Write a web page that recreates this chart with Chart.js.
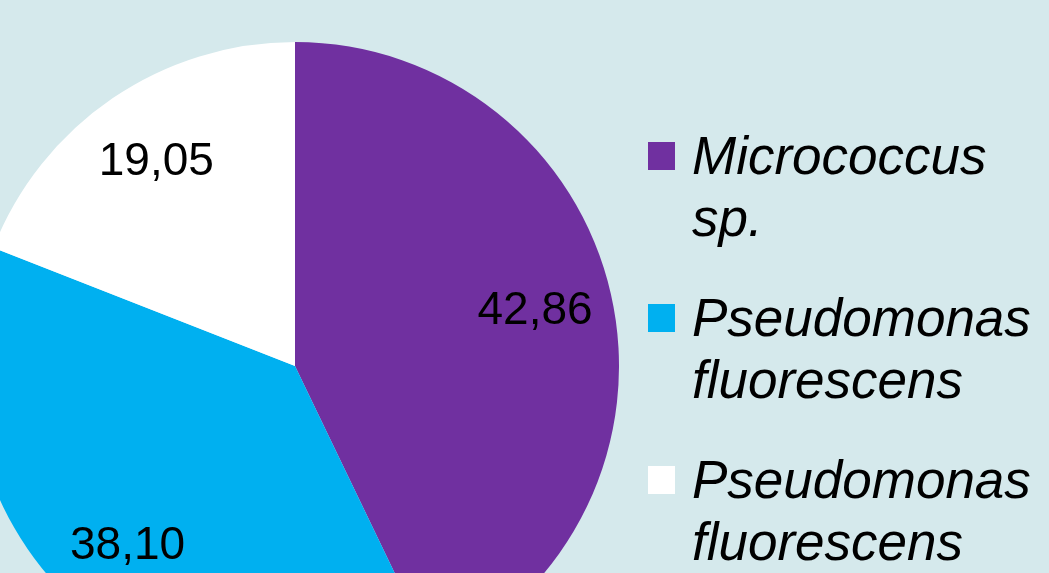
<!DOCTYPE html>
<html lang="en">

<head>
    <meta charset="UTF-8">
    <title>pie</title>
    <script src="https://cdn.jsdelivr.net/npm/chart.js@4/dist/chart.umd.min.js"></script>
    <style>
        body {
            margin: 0;
            width: 1049px;
            height: 573px;
            overflow: hidden;
            background: #d5e9ec;
            position: relative;
            font-family: "Liberation Sans", Arial, sans-serif;
        }

        /* the pie runs off the left and bottom edges of the picture */
        #myChart {
            position: absolute;
            left: -29px;
            top: 42px;
        }

        #legend {
            position: absolute;
            left: 648px;
            top: 125px;
        }

        .item {
            display: flex;
            margin-bottom: 38px;
        }

        .box {
            width: 27px;
            height: 28px;
            margin-top: 17px;
            margin-right: 17px;
            flex: none;
        }

        .txt {
            width: 350px;
            font-size: 53px;
            line-height: 62px;
            font-style: italic;
            color: #000;
        }
    </style>
</head>

<body>
    <canvas id="myChart" width="648" height="648"></canvas>
    <div id="legend"></div>

    <script>
        var labels = ['Micrococcus sp.', 'Pseudomonas fluorescens', 'Pseudomonas fluorescens'];
        var values = [42.86, 38.10, 19.05];
        var colors = ['#7030a0', '#00b0f0', '#ffffff'];

        // values shown on slices, decimal comma
        var valueText = values.map(v => v.toFixed(2).replace('.', ','));

        const sliceLabels = {
            id: 'sliceLabels',
            afterDatasetsDraw(chart) {
                const ctx = chart.ctx;
                const meta = chart.getDatasetMeta(0);
                ctx.save();
                ctx.font = '46px "Liberation Sans", Arial, sans-serif';
                ctx.fillStyle = '#000';
                ctx.textAlign = 'center';
                ctx.textBaseline = 'middle';
                meta.data.forEach((arc, i) => {
                    const p = arc.getProps(['x', 'y', 'startAngle', 'endAngle', 'outerRadius'], true);
                    const mid = (p.startAngle + p.endAngle) / 2;
                    const r = p.outerRadius * 0.76;
                    ctx.fillText(valueText[i], p.x + Math.cos(mid) * r, p.y + Math.sin(mid) * r);
                });
                ctx.restore();
            }
        };

        const ctx = document.getElementById('myChart').getContext('2d');
        new Chart(ctx, {
            type: 'pie',
            data: {
                labels: labels,
                datasets: [{
                    data: values,
                    backgroundColor: colors,
                    borderWidth: 0
                }]
            },
            options: {
                responsive: false,
                animation: false,
                layout: { padding: 0 },
                plugins: {
                    legend: { display: false },
                    tooltip: { enabled: false }
                }
            },
            plugins: [sliceLabels]
        });

        // legend built from the same arrays
        var legend = document.getElementById('legend');
        labels.forEach((name, i) => {
            var item = document.createElement('div');
            item.className = 'item';
            var box = document.createElement('div');
            box.className = 'box';
            box.style.background = colors[i];
            var txt = document.createElement('div');
            txt.className = 'txt';
            txt.textContent = name;
            item.appendChild(box);
            item.appendChild(txt);
            legend.appendChild(item);
        });
    </script>

</body>

</html>
